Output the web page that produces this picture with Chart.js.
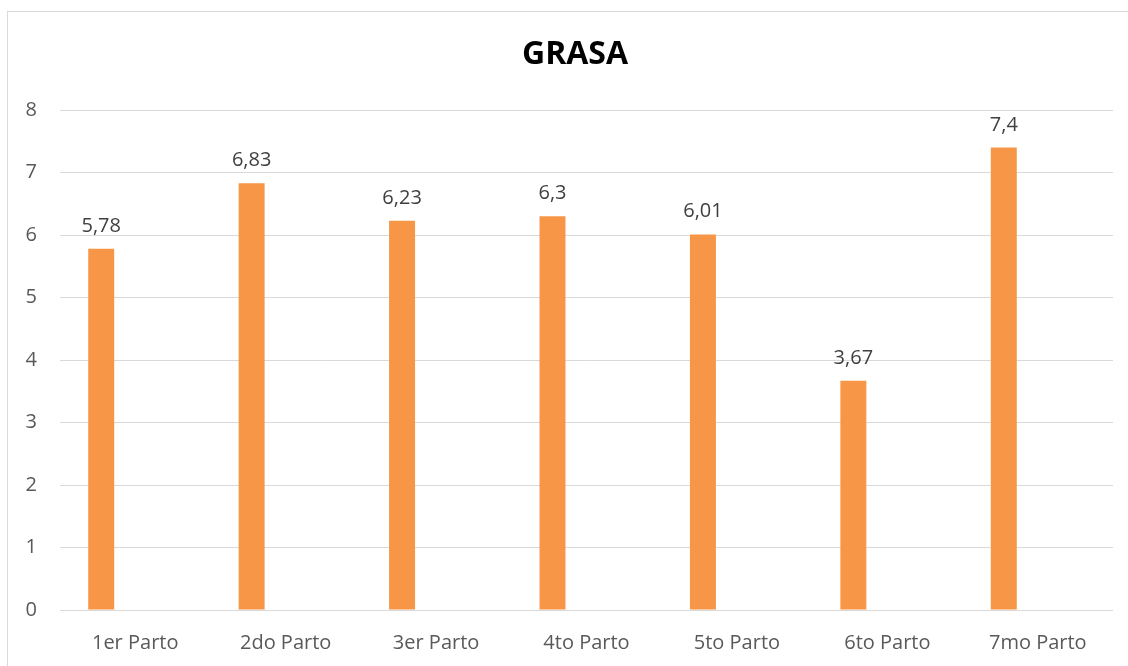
<!DOCTYPE html>
<html>
<head>
<meta charset="utf-8">
<script src="https://cdn.jsdelivr.net/npm/chart.js@4"></script>
<style>
  html, body { margin: 0; padding: 0; background: #fff; }
  #wrap { width: 1128px; height: 666px; position: relative; }
</style>
</head>
<body>
<div id="wrap"><canvas id="c" width="1128" height="666"></canvas></div>
<script>
// Categories and values
const categories = ['1er Parto', '2do Parto', '3er Parto', '4to Parto', '5to Parto', '6to Parto', '7mo Parto'];
const grasa = [5.78, 6.83, 6.23, 6.3, 6.01, 3.67, 7.4];
const emptySeries = [null, null, null, null, null, null, null];
const yTicks = [0, 1, 2, 3, 4, 5, 6, 7, 8];
const chartTitle = 'GRASA';

const FONT = "'Open Sans', 'Liberation Sans', sans-serif";

// Outer frame, title and value labels above each bar
const decorations = {
  id: 'decorations',
  beforeDraw(chart) {
    const ctx = chart.ctx;
    ctx.save();
    ctx.fillStyle = '#ffffff';
    ctx.fillRect(0, 0, chart.width, chart.height);
    ctx.strokeStyle = '#d9d9d9';
    ctx.lineWidth = 1;
    ctx.strokeRect(7.5, 11.5, chart.width + 20, chart.height + 20);
    ctx.restore();
  },
  afterDatasetsDraw(chart) {
    const ctx = chart.ctx;
    ctx.save();
    ctx.fillStyle = '#000000';
    ctx.font = "bold 32px " + FONT;
    ctx.textAlign = 'center';
    ctx.textBaseline = 'middle';
    ctx.fillText(chartTitle, 575, 55);

    const meta = chart.getDatasetMeta(0);
    ctx.fillStyle = '#404040';
    ctx.font = "20px " + FONT;
    ctx.textBaseline = 'alphabetic';
    meta.data.forEach((bar, i) => {
      const txt = String(grasa[i]).replace('.', ',');
      ctx.fillText(txt, bar.x, bar.y - 17);
    });
    ctx.restore();
  }
};

new Chart(document.getElementById('c'), {
  type: 'bar',
  data: {
    labels: categories,
    datasets: [
      {
        label: chartTitle,
        data: grasa,
        backgroundColor: '#f79646',
        borderWidth: 0,
        categoryPercentage: 0.904,
        barPercentage: 0.382
      },
      {
        label: '',
        data: emptySeries,
        backgroundColor: '#4f81bd',
        categoryPercentage: 0.904,
        barPercentage: 0.382
      }
    ]
  },
  options: {
    responsive: false,
    animation: false,
    devicePixelRatio: 1,
    layout: { padding: { top: 110, right: 15, left: 0, bottom: 0 } },
    plugins: {
      legend: { display: false },
      title: { display: false },
      tooltip: { enabled: false }
    },
    scales: {
      x: {
        grid: { display: false, drawTicks: false },
        border: { display: false },
        ticks: {
          color: '#595959',
          font: { family: FONT, size: 20 },
          padding: 21,
          maxRotation: 0
        },
        afterFit(scale) { scale.height = 56; }
      },
      y: {
        min: 0,
        max: 8,
        afterBuildTicks(scale) { scale.ticks = yTicks.map(v => ({ value: v })); },
        grid: { color: '#d9d9d9', lineWidth: 1, drawTicks: false },
        border: { display: false },
        ticks: {
          color: '#595959',
          font: { family: FONT, size: 20 },
          padding: 23
        },
        afterFit(scale) { scale.width = 60; }
      }
    }
  },
  plugins: [decorations]
});
</script>
</body>
</html>
